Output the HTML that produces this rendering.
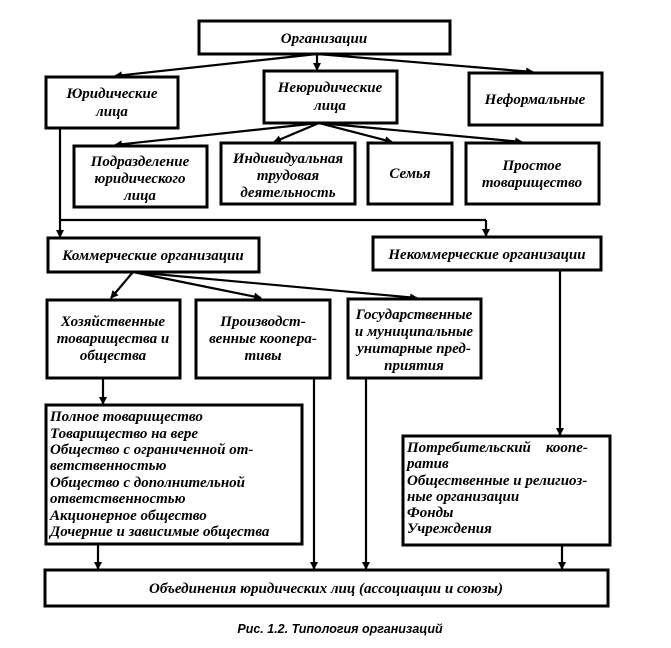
<!DOCTYPE html>
<html><head><meta charset="utf-8"><style>
html,body{margin:0;padding:0;background:#fff}
svg{display:block}
text{font-family:"Liberation Serif","Noto Serif CJK SC",serif;font-weight:bold;font-style:italic;font-size:15px;fill:#000}
rect{fill:#fff;stroke:#000;stroke-width:3}
line{stroke:#000;stroke-width:2.2}
</style></head><body>
<svg width="671" height="648" viewBox="0 0 671 648" xmlns="http://www.w3.org/2000/svg">
<defs><marker id="a" markerWidth="8" markerHeight="8" refX="7" refY="4" orient="auto" markerUnits="userSpaceOnUse"><path d="M0,0 L8,4 L0,8 z" fill="#000"/></marker></defs>
<rect x="0" y="0" width="671" height="648" style="fill:#fff;stroke:none"/>
<g marker-end="url(#a)">
<line x1="317" y1="54" x2="115" y2="76"/>
<line x1="317" y1="54" x2="317" y2="70"/>
<line x1="317" y1="54" x2="533" y2="72"/>
<line x1="319" y1="123" x2="115" y2="145"/>
<line x1="319" y1="123" x2="274" y2="142"/>
<line x1="319" y1="123" x2="392" y2="142"/>
<line x1="319" y1="123" x2="522" y2="142"/>
<line x1="60" y1="128" x2="60" y2="237"/>
<line x1="486" y1="220" x2="486" y2="236"/>
<line x1="133" y1="272" x2="111" y2="298"/>
<line x1="133" y1="272" x2="261" y2="298"/>
<line x1="133" y1="272" x2="417" y2="298"/>
<line x1="103" y1="378" x2="103" y2="404"/>
<line x1="560" y1="270" x2="560" y2="435"/>
<line x1="98" y1="544" x2="98" y2="569"/>
<line x1="314" y1="378" x2="314" y2="569"/>
<line x1="366" y1="378" x2="366" y2="569"/>
<line x1="562" y1="545" x2="562" y2="569"/>
</g>
<line x1="60" y1="220" x2="486" y2="220"/>
<rect x="199" y="21" width="251" height="33"/>
<text x="324" y="43" text-anchor="middle" font-size="16">Организации</text>
<rect x="46" y="77" width="132" height="51"/>
<text x="112" y="98" text-anchor="middle">Юридические</text><text x="112" y="116" text-anchor="middle">лица</text>
<rect x="264" y="71" width="133" height="52"/>
<text x="330" y="92" text-anchor="middle">Неюридические</text><text x="330" y="110" text-anchor="middle">лица</text>
<rect x="469" y="73" width="133" height="52"/>
<text x="535" y="104" text-anchor="middle">Неформальные</text>
<rect x="74" y="146" width="133" height="61"/>
<text x="140" y="166" text-anchor="middle">Подразделение</text><text x="140" y="183" text-anchor="middle">юридического</text><text x="140" y="200" text-anchor="middle">лица</text>
<rect x="221" y="143" width="134" height="61"/>
<text x="288" y="163" text-anchor="middle">Индивидуальная</text><text x="288" y="180" text-anchor="middle">трудовая</text><text x="288" y="197" text-anchor="middle">деятельность</text>
<rect x="368" y="143" width="84" height="61"/>
<text x="410" y="178" text-anchor="middle">Семья</text>
<rect x="466" y="143" width="133" height="61"/>
<text x="532" y="170" text-anchor="middle">Простое</text><text x="532" y="187" text-anchor="middle">товарищество</text>
<rect x="48" y="238" width="211" height="34"/>
<text x="153" y="260" text-anchor="middle">Коммерческие организации</text>
<rect x="373" y="237" width="228" height="33"/>
<text x="487" y="259" text-anchor="middle">Некоммерческие организации</text>
<rect x="47" y="300" width="133" height="78"/>
<text x="113" y="326" text-anchor="middle">Хозяйственные</text><text x="113" y="343" text-anchor="middle">товарищества и</text><text x="113" y="360" text-anchor="middle">общества</text>
<rect x="196" y="300" width="134" height="78"/>
<text x="263" y="326" text-anchor="middle">Производст-</text><text x="263" y="343" text-anchor="middle">венные коопера-</text><text x="263" y="360" text-anchor="middle">тивы</text>
<rect x="348" y="299" width="133" height="79"/>
<text x="414" y="319" text-anchor="middle">Государственные</text><text x="414" y="336" text-anchor="middle">и муниципальные</text><text x="414" y="353" text-anchor="middle">унитарные пред-</text><text x="414" y="370" text-anchor="middle">приятия</text>
<rect x="46" y="405" width="256" height="139"/>
<g>
<text x="50" y="421">Полное товарищество</text>
<text x="50" y="438">Товарищество на вере</text>
<text x="50" y="454">Общество с ограниченной от-</text>
<text x="50" y="470">ветственностью</text>
<text x="50" y="487">Общество с дополнительной</text>
<text x="50" y="503">ответственностью</text>
<text x="50" y="520">Акционерное общество</text>
<text x="50" y="536" font-size="14.5">Дочерние и зависимые общества</text>
</g>
<rect x="403" y="436" width="207" height="109"/>
<g>
<text x="407" y="452">Потребительский&#160;&#160;&#160;&#160;коопе-</text>
<text x="407" y="468">ратив</text>
<text x="407" y="485">Общественные и религиоз-</text>
<text x="407" y="501">ные организации</text>
<text x="407" y="517">Фонды</text>
<text x="407" y="533">Учреждения</text>
</g>
<rect x="45" y="570" width="563" height="36"/>
<text x="326" y="593" text-anchor="middle">Объединения юридических лиц (ассоциации и союзы)</text>
<text x="340" y="633" text-anchor="middle" style="font-family:'Liberation Sans',sans-serif;font-size:12.5px">Рис. 1.2. Типология организаций</text>
</svg>
</body></html>
